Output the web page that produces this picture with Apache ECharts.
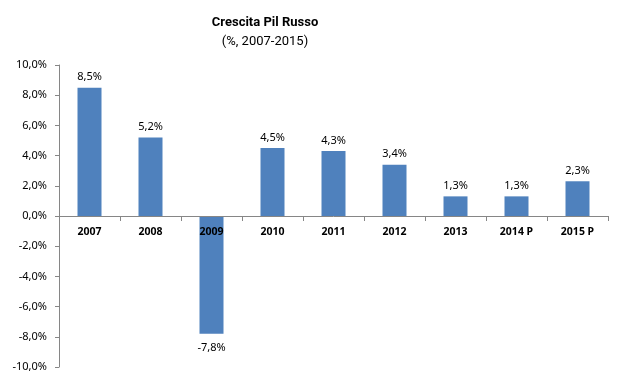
<!DOCTYPE html>
<html>
<head>
<meta charset="utf-8">
<script src="https://cdn.jsdelivr.net/npm/echarts@6/dist/echarts.min.js"></script>
<style>html,body{margin:0;padding:0;background:#fff;}#c{width:623px;height:382px;}</style>
</head>
<body>
<div id="c"></div>
<script>
const categories = ['2007','2008','2009','2010','2011','2012','2013','2014 P','2015 P'];
const growth = [8.5, 5.2, -7.8, 4.5, 4.3, 3.4, 1.3, 1.3, 2.3];
const yTicks = {min: -10, max: 10, interval: 2};

const fmt = v => v.toFixed(1).replace('.', ',') + '%';
const FONT = 'Noto Sans';

const GRID = {left: 59, right: 15, top: 65, bottom: 15};
const H = 382;
const plotH = H - GRID.top - GRID.bottom;
// offset of x axis so it sits at value 0
const zeroOffset = -plotH * (0 - yTicks.min) / (yTicks.max - yTicks.min);

const chart = echarts.init(document.getElementById('c'));
chart.setOption({
  animation: false,
  backgroundColor: '#fff',
  title: {
    text: 'Crescita Pil Russo',
    subtext: '(%, 2007-2015)',
    left: 260, top: 11, textAlign: 'center',
    itemGap: 6,
    textStyle: {fontFamily: 'Roboto', fontSize: 13, fontWeight: 'bold', color: '#000'},
    subtextStyle: {fontFamily: 'Roboto', fontSize: 13, color: '#000'}
  },
  grid: GRID,
  xAxis: {
    type: 'category',
    data: categories,
    position: 'bottom',
    offset: zeroOffset,
    axisLine: {onZero: false, lineStyle: {color: '#868686', width: 1}},
    axisTick: {show: true, length: 5, lineStyle: {color: '#868686'}},
    axisLabel: {fontFamily: FONT, fontSize: 10.5, fontWeight: 'bold', color: '#000', margin: 11},
    splitLine: {show: false},
    z: 10
  },
  yAxis: {
    type: 'value',
    min: yTicks.min, max: yTicks.max, interval: yTicks.interval,
    axisLine: {show: true, lineStyle: {color: '#868686', width: 1}},
    axisTick: {show: true, length: 4, lineStyle: {color: '#868686'}},
    axisLabel: {fontFamily: FONT, fontSize: 11, color: '#000', margin: 12, formatter: fmt},
    splitLine: {show: false}
  },
  series: [{
    type: 'bar',
    data: growth.map(v => ({
      value: v,
      label: {position: v < 0 ? 'bottom' : 'top', distance: v < 0 ? 9 : 5}
    })),
    barWidth: 24,
    itemStyle: {color: '#4F81BD'},
    z: 2,
    label: {
      show: true,
      distance: 5,
      fontFamily: FONT, fontSize: 11, color: '#000',
      formatter: p => fmt(p.value)
    }
  }]
});
</script>
</body>
</html>
